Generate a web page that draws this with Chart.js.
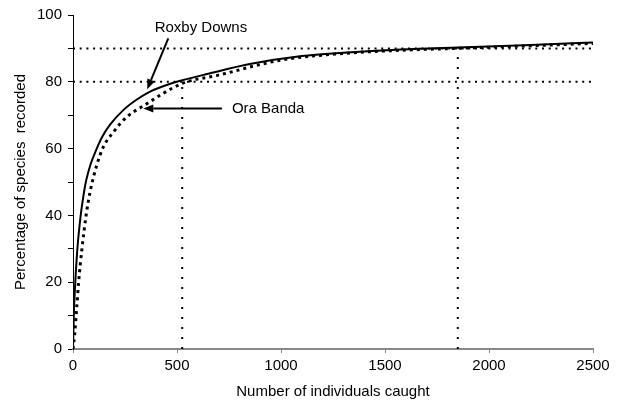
<!DOCTYPE html>
<html>
<head>
<meta charset="utf-8">
<script src="https://cdn.jsdelivr.net/npm/chart.js@4.4.1/dist/chart.umd.min.js"></script>
<style>
  html, body { margin: 0; padding: 0; background: #fff; }
  #wrap { width: 618px; height: 405px; }
</style>
</head>
<body>
<div id="wrap"><canvas id="curveChart" width="618" height="405"></canvas></div>
<script>
// ---- data ----
const roxbyX = [0, 4, 11, 21, 37, 53, 63, 85, 114, 140, 180, 243, 300, 359, 430, 516, 650, 850, 1100, 1300, 1580, 1850, 2200, 2500];
const roxbyY = [0, 10.5, 20, 30, 40, 47, 50.4, 55.4, 60, 63.5, 67.3, 71.6, 74.4, 76.7, 78.6, 80.3, 82.4, 85.3, 87.7, 88.7, 89.7, 90.3, 91, 91.8];

const oraX = [0, 8, 18, 27, 43, 63, 82, 114, 146, 195, 259, 331, 525, 700, 1000, 1300, 1600, 1850, 2200, 2500];
const oraY = [0, 4.5, 12.5, 20, 30, 40, 47, 55, 60.5, 65, 69.5, 72.5, 79.5, 82, 86.5, 88.5, 89.5, 90, 90.8, 91.5];

// reference levels (percent) and where they are reached (individuals)
const levels = [80, 90];
const levelReached = [525, 1850];

const xTicks = [0, 500, 1000, 1500, 2000, 2500];
const yTicks = [0, 20, 40, 60, 80, 100];

const toPoints = (xs, ys) => xs.map((x, i) => ({ x: x, y: ys[i] }));

// dotted guide lines
const guideStyle = {
  borderColor: '#000',
  borderWidth: 2,
  pointRadius: 0,
  fill: false,
  tension: 0
};
const guides = [];
levels.forEach((lvl) => {
  guides.push(Object.assign({ data: [{ x: 0, y: lvl }, { x: 2500, y: lvl }], borderDash: [2, 4.7] }, guideStyle));
});
levelReached.forEach((n, i) => {
  guides.push(Object.assign({ data: [{ x: n, y: 0 }, { x: n, y: levels[i] }], borderDash: [2, 8] }, guideStyle));
});

// text + arrow labels, placed in data units
const callouts = [
  { text: 'Roxby Downs', tx: 615, ty: 96.1, from: [458, 93], to: [357, 77.8] },
  { text: 'Ora Banda', tx: 764, ty: 72, from: [716, 72], to: [338, 72], left: true }
];

const fontFamily = '"Liberation Sans", Arial, sans-serif';

const calloutPlugin = {
  id: 'callouts',
  afterDatasetsDraw(chart) {
    const { ctx, scales: { x, y } } = chart;
    ctx.save();
    ctx.fillStyle = '#000';
    ctx.strokeStyle = '#000';
    ctx.font = '15px ' + fontFamily;
    ctx.textBaseline = 'middle';
    callouts.forEach((c) => {
      ctx.textAlign = c.left ? 'left' : 'center';
      ctx.fillText(c.text, x.getPixelForValue(c.tx), y.getPixelForValue(c.ty));
      const x1 = x.getPixelForValue(c.from[0]), y1 = y.getPixelForValue(c.from[1]);
      const x2 = x.getPixelForValue(c.to[0]), y2 = y.getPixelForValue(c.to[1]);
      const ang = Math.atan2(y2 - y1, x2 - x1);
      const head = 10, hw = 4;
      const bx = x2 - head * Math.cos(ang), by = y2 - head * Math.sin(ang);
      ctx.lineWidth = 2;
      ctx.beginPath();
      ctx.moveTo(x1, y1);
      ctx.lineTo(bx, by);
      ctx.stroke();
      ctx.beginPath();
      ctx.moveTo(x2, y2);
      ctx.lineTo(bx + hw * Math.sin(ang), by - hw * Math.cos(ang));
      ctx.lineTo(bx - hw * Math.sin(ang), by + hw * Math.cos(ang));
      ctx.closePath();
      ctx.fill();
    });
    ctx.restore();
  }
};

const tickFont = { family: fontFamily, size: 15 };

const chart = new Chart(document.getElementById('curveChart').getContext('2d'), {
  type: 'line',
  data: {
    datasets: guides.concat([
      {
        label: 'Roxby Downs',
        data: toPoints(roxbyX, roxbyY),
        borderColor: '#000',
        borderWidth: 2,
        pointRadius: 0,
        fill: false,
        cubicInterpolationMode: 'monotone'
      },
      {
        label: 'Ora Banda',
        data: toPoints(oraX, oraY),
        borderColor: '#000',
        borderWidth: 3,
        borderDash: [3, 4],
        pointRadius: 0,
        fill: false,
        cubicInterpolationMode: 'monotone'
      }
    ])
  },
  options: {
    responsive: false,
    animation: false,
    layout: { padding: { top: 15, right: 25, left: 8, bottom: 0 } },
    plugins: { legend: { display: false }, tooltip: { enabled: false } },
    scales: {
      x: {
        type: 'linear',
        min: 0,
        max: 2500,
        afterBuildTicks: (s) => { s.ticks = xTicks.map((v) => ({ value: v })); },
        afterFit: (s) => { s.height = 56; },
        grid: { drawOnChartArea: false, drawTicks: true, tickLength: 4, tickColor: '#888' },
        border: { color: '#888', width: 2 },
        ticks: { color: '#000', font: tickFont, padding: 4, maxRotation: 0, callback: (v) => String(v) },
        title: {
          display: true,
          text: 'Number of individuals caught',
          color: '#000',
          font: tickFont,
          padding: { top: 11 }
        }
      },
      y: {
        min: 0,
        max: 100,
        ticks: {
          stepSize: 10,
          color: '#000',
          font: tickFont,
          padding: 6,
          callback: (v) => (yTicks.includes(v) ? String(v) : '')
        },
        afterFit: (s) => { s.width = 65; },
        grid: { drawOnChartArea: false, drawTicks: true, tickLength: 5, tickColor: '#000' },
        border: { color: '#000', width: 1 },
        title: {
          display: true,
          text: 'Percentage of species  recorded',
          color: '#000',
          font: tickFont,
          padding: { bottom: 6 }
        }
      }
    }
  },
  plugins: [calloutPlugin]
});
</script>
</body>
</html>
